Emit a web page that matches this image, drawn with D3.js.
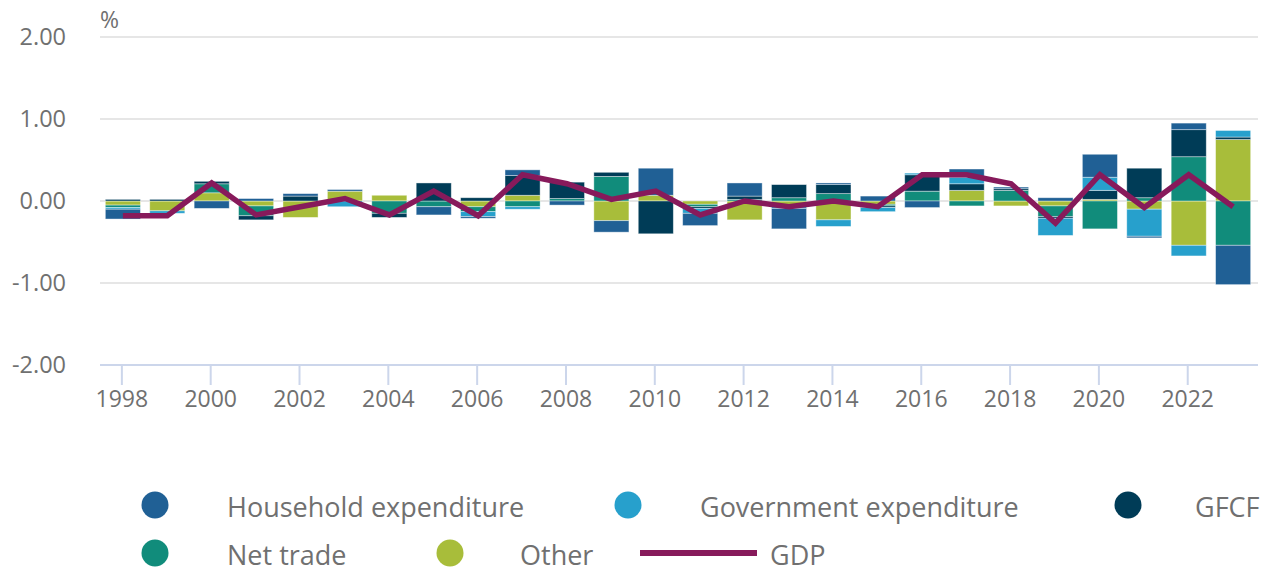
<!DOCTYPE html>
<html>
<head>
<meta charset="utf-8">
<script src="https://cdn.jsdelivr.net/npm/d3@7"></script>
<style>
  body { margin: 0; background: #fff; }
  svg { display: block; font-family: 'Open Sans', sans-serif; }
</style>
</head>
<body>
<svg width="1268" height="575"></svg>
<script>
// years on the x axis
const years = d3.range(1998, 2024)

// contributions to GDP growth, percentage points
const household = [-0.12, 0, -0.09, 0.03, 0.03, 0.02, 0, -0.1, -0.02, 0.07, -0.05, -0.14, 0.33, -0.15, 0.16, -0.25, 0.02, 0.06, -0.08, 0.1, 0.02, 0.04, 0.28, -0.02, 0.08, -0.48]
const government = [-0.02, -0.03, 0, 0, 0, -0.07, 0, 0, -0.06, -0.03, 0, 0, 0, -0.06, 0, -0.03, -0.08, -0.05, 0.02, 0.08, 0, -0.21, 0.16, -0.33, -0.13, 0.08]
const gfcf = [0.02, 0.02, 0.03, -0.05, 0.06, 0, -0.05, 0.22, 0.04, 0.24, 0.2, 0.05, -0.4, -0.02, 0.04, 0.16, 0.11, -0.02, 0.2, 0.08, 0.02, -0.02, 0.11, 0.36, 0.33, 0.03]
const netTrade = [-0.03, 0, 0.11, -0.12, 0, 0, -0.15, -0.07, -0.06, -0.07, 0.03, 0.3, 0, -0.03, 0.02, 0.04, 0.09, -0.02, 0.12, -0.06, 0.13, -0.13, -0.34, 0.04, 0.54, -0.54]
const other = [-0.05, -0.12, 0.1, -0.06, -0.2, 0.12, 0.07, 0, -0.07, 0.07, 0, -0.24, 0.07, -0.04, -0.23, -0.06, -0.23, -0.04, 0, 0.13, -0.06, -0.06, 0.02, -0.1, -0.54, 0.75]
const gdp = [-0.18, -0.18, 0.22, -0.17, -0.07, 0.03, -0.17, 0.12, -0.18, 0.32, 0.21, 0.02, 0.12, -0.17, 0, -0.07, 0, -0.07, 0.32, 0.32, 0.21, -0.27, 0.32, -0.08, 0.32, -0.07]

const yTicks = [-2, -1, 0, 1, 2]
const xTickYears = d3.range(1998, 2024, 2)

const seriesNames = ['Household expenditure', 'Government expenditure', 'GFCF', 'Net trade', 'Other']
const seriesColors = ['#206095', '#27a0cc', '#003c57', '#118c7b', '#a8bd3a']
const gdpColor = '#871a5b'
const textColor = '#707070'

// stack order: Other sits next to zero, Household at the outside
const stackKeys = ['Other', 'Net trade', 'GFCF', 'Government expenditure', 'Household expenditure']
const seriesValues = {
  'Household expenditure': household,
  'Government expenditure': government,
  'GFCF': gfcf,
  'Net trade': netTrade,
  'Other': other
}

const table = years.map((year, i) => {
  let row = { year: year }
  seriesNames.forEach(name => { row[name] = seriesValues[name][i] })
  return row
})

const svg = d3.select('svg')

const x = d3.scaleBand()
  .domain(years)
  .range([100, 1256])
  .paddingInner(0.21)
  .paddingOuter(0.12)

const y = d3.scaleLinear()
  .domain([-2, 2])
  .range([365, 37])

// gridlines
svg.append('g')
  .selectAll('line')
  .data(yTicks.filter(d => d !== -2))
  .enter()
  .append('line')
  .attr('x1', 100)
  .attr('x2', 1258)
  .attr('y1', d => y(d))
  .attr('y2', d => y(d))
  .attr('stroke', '#e6e6e6')
  .attr('stroke-width', 2)

// y axis labels (plain hyphen, like the original)
svg.append('g')
  .selectAll('text')
  .data(yTicks)
  .enter()
  .append('text')
  .attr('x', 66)
  .attr('y', d => y(d) + 8)
  .attr('text-anchor', 'end')
  .attr('font-size', 23.5)
  .attr('fill', textColor)
  .text(d => d.toFixed(2))

svg.append('text')
  .attr('x', 100)
  .attr('y', 28)
  .attr('font-size', 23)
  .attr('fill', textColor)
  .text('%')

// stacked bars
const stacked = d3.stack()
  .keys(stackKeys)
  .offset(d3.stackOffsetDiverging)(table)

const colorOf = d3.scaleOrdinal().domain(seriesNames).range(seriesColors)

svg.append('g')
  .selectAll('g')
  .data(stacked)
  .enter()
  .append('g')
  .attr('fill', d => colorOf(d.key))
  .selectAll('rect')
  .data(d => d)
  .enter()
  .append('rect')
  .attr('x', d => x(d.data.year))
  .attr('width', x.bandwidth())
  .attr('y', d => y(Math.max(d[0], d[1])))
  .attr('height', d => Math.abs(y(d[0]) - y(d[1])))
  .attr('stroke', '#ffffff')
  .attr('stroke-opacity', 0.5)
  .attr('stroke-width', 0.8)

// GDP line
const line = d3.line()
  .x((d, i) => x(years[i]) + x.bandwidth() / 2)
  .y(d => y(d))

svg.append('path')
  .datum(gdp)
  .attr('d', line)
  .attr('fill', 'none')
  .attr('stroke', gdpColor)
  .attr('stroke-width', 5.5)
  .attr('stroke-linejoin', 'miter')

// x axis
const xAxis = svg.append('g')
xAxis.append('line')
  .attr('x1', 100)
  .attr('x2', 1258)
  .attr('y1', y(-2))
  .attr('y2', y(-2))
  .attr('stroke', '#ccd6eb')
  .attr('stroke-width', 2)

xAxis.selectAll('.tick')
  .data(xTickYears)
  .enter()
  .append('line')
  .attr('x1', d => x(d) + x.bandwidth() / 2 - 1)
  .attr('x2', d => x(d) + x.bandwidth() / 2 - 1)
  .attr('y1', y(-2))
  .attr('y2', y(-2) + 20)
  .attr('stroke', '#ccd6eb')
  .attr('stroke-width', 2)

xAxis.selectAll('text')
  .data(xTickYears)
  .enter()
  .append('text')
  .attr('x', d => x(d) + x.bandwidth() / 2 - 1)
  .attr('y', 407)
  .attr('text-anchor', 'middle')
  .attr('font-size', 23)
  .attr('fill', textColor)
  .text(d => d)

// legend
const legendItems = [
  { name: 'Household expenditure', cx: 155, tx: 227, row: 0 },
  { name: 'Government expenditure', cx: 628, tx: 700, row: 0 },
  { name: 'GFCF', cx: 1128, tx: 1195, row: 0 },
  { name: 'Net trade', cx: 155, tx: 227, row: 1 },
  { name: 'Other', cx: 450, tx: 520, row: 1 }
]
const rowY = [505, 553]

const legend = svg.append('g')
legend.selectAll('circle')
  .data(legendItems)
  .enter()
  .append('circle')
  .attr('cx', d => d.cx)
  .attr('cy', d => rowY[d.row])
  .attr('r', 13.5)
  .attr('fill', d => colorOf(d.name))

legend.selectAll('text')
  .data(legendItems)
  .enter()
  .append('text')
  .attr('x', d => d.tx)
  .attr('y', d => rowY[d.row] + 12)
  .attr('font-size', 27)
  .attr('fill', textColor)
  .text(d => d.name)

legend.append('line')
  .attr('x1', 640)
  .attr('x2', 757)
  .attr('y1', rowY[1])
  .attr('y2', rowY[1])
  .attr('stroke', gdpColor)
  .attr('stroke-width', 6)

legend.append('text')
  .attr('x', 770)
  .attr('y', rowY[1] + 12)
  .attr('font-size', 27)
  .attr('fill', textColor)
  .text('GDP')
</script>
</body>
</html>
